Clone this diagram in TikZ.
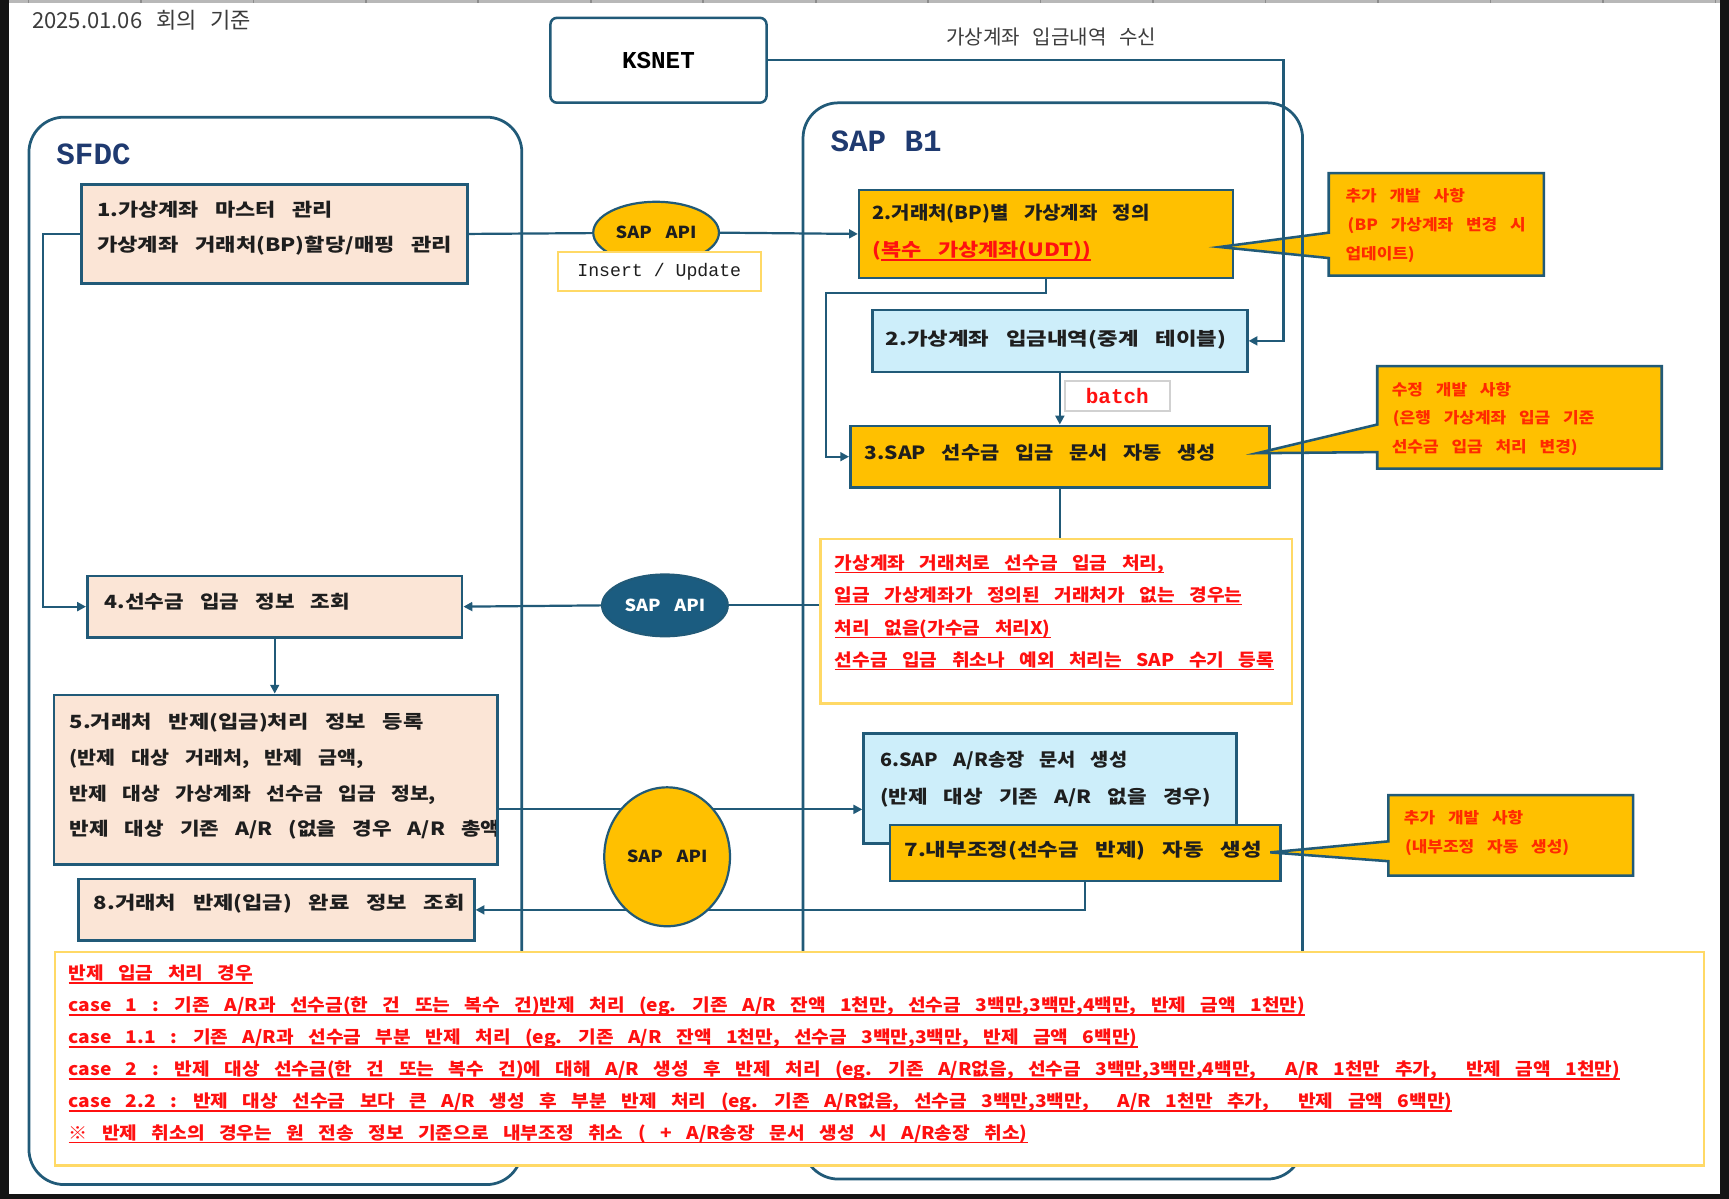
\documentclass[tikz,border=0pt]{standalone}
\usepackage{fontspec}
\usetikzlibrary{arrows.meta,shapes.geometric}
\newfontfamily\kf{Noto Sans CJK KR}[FakeStretch=1.1,WordSpace=3.3]
\newfontfamily\kfb{Noto Sans CJK KR}[FakeStretch=1.17,WordSpace=3.3]
\newfontfamily\gf{Noto Sans CJK KR}[WordSpace=2.8]
\newfontfamily\mf{Liberation Mono}
\definecolor{edge}{HTML}{215A78}
\definecolor{apidark}{HTML}{1B5C80}
\definecolor{gold}{HTML}{FFC000}
\definecolor{peach}{HTML}{FBE5D6}
\definecolor{lblue}{HTML}{CDEEFA}
\definecolor{noteline}{HTML}{FFD966}
\definecolor{navy}{HTML}{1F3A70}
\definecolor{txt}{HTML}{1E1E1E}
\definecolor{calltxt}{HTML}{FF2A00}
\definecolor{notered}{HTML}{FF1010}
\definecolor{datetxt}{HTML}{3C3C3C}
\pgfdeclarelayer{bg}
\pgfdeclarelayer{boxes}
\pgfdeclarelayer{calls}
\pgfdeclarelayer{top}
\pgfsetlayers{bg,boxes,calls,main,top}
\newcommand\ulr[1]{\setbox0\hbox{#1}\leavevmode\rlap{\rule[-3.5pt]{\wd0}{1.3pt}}\box0}
\newcommand\sx[2]{\scalebox{#1}[1]{#2}}
\tikzset{
 bx/.style={draw=edge, line width=2.3pt, anchor=north west, inner sep=0pt},
 pebox/.style={bx, fill=peach},
 gobox/.style={bx, fill=gold},
 lbbox/.style={bx, fill=lblue},
 tx/.style={anchor=base west, inner sep=0pt, text=txt, font=\kfb\bfseries\fontsize{16.5}{19}\selectfont},
 rtx/.style={tx, text=notered},
 ctx/.style={anchor=base west, inner sep=0pt, text=calltxt, font=\kf\bfseries\fontsize{14}{16}\selectfont},
 ntx/.style={anchor=base west, inner sep=0pt, text=notered, font=\kf\bfseries\fontsize{15.8}{18}\selectfont},
 conn/.style={draw=edge, line width=2pt},
 arr/.style={conn, -{Triangle[length=8pt,width=8pt]}},
 callout/.style={fill=gold, draw=edge, line width=2.3pt},
 api/.style={ellipse, draw=edge, line width=2pt, inner sep=0pt, font=\kf\bfseries\fontsize{15}{18}\selectfont},
 notebox/.style={draw=noteline, line width=2pt, fill=white, anchor=north west, inner sep=0pt},
 container/.style={draw=edge, line width=2.5pt, anchor=north west, inner sep=0pt, rounded corners=32pt},
 sysl/.style={anchor=base west, inner sep=0pt, text=navy, font=\mf\bfseries\fontsize{28}{30}\selectfont},
}
\begin{document}
\begin{tikzpicture}[x=1pt,y=-1pt]
\useasboundingbox (0,0) rectangle (1568,1087);
\begin{pgfonlayer}{bg}
\fill[white] (0,0) rectangle (1568,1087);
\fill[black!28] (8,0) rectangle (1560,3);
\foreach \k in {0,...,15} {\fill[black!45] (25+102*\k,0) rectangle (26.5+102*\k,3);}
\fill[black!92] (0,0) rectangle (8,1087);
\fill[black!92] (1560,0) rectangle (1568,1087);
\fill[black!92] (0,1083) rectangle (1568,1087);
\end{pgfonlayer}

% ---------- boxes ----------
\begin{pgfonlayer}{boxes}
\node[bx, rounded corners=6pt, fill=white, minimum width=196pt, minimum height=77pt, font=\mf\bfseries\fontsize{22}{24}\selectfont] (ksnet) at (498,15) {KSNET};
\node[pebox, minimum width=350pt, minimum height=90pt] (box1) at (73,166) {};
\node[tx] (t1a) at (88,196) {\sx{1.03}{1.가상계좌 마스터 관리}};
\node[tx] (t1b) at (88,228) {\sx{1.04}{가상계좌 거래처(BP)할당/매핑 관리}};
\node[gobox, minimum width=339pt, minimum height=80pt] (box2a) at (778,171) {};
\node[tx] (t2a) at (791,199) {\sx{0.94}{2.거래처(BP)별 가상계좌 정의}};
\node[rtx] (t2b) at (791,233) {\sx{1.03}{(\ulr{복수 가상계좌(UDT))}}};
\node[lbbox, minimum width=340pt, minimum height=56pt] (box2b) at (790,280) {};
\node[tx] (t2c) at (803,313) {\sx{1.05}{2.가상계좌 입금내역(중계 테이블)}};
\node[gobox, minimum width=380pt, minimum height=56pt] (box3) at (770,385) {};
\node[tx] (t3) at (784,417) {\sx{0.98}{3.SAP 선수금 입금 문서 자동 생성}};
\node[pebox, minimum width=340pt, minimum height=56pt] (box4) at (78,521) {};
\node[tx] (t4) at (95,552) {4.선수금 입금 정보 조회};
\node[pebox, minimum width=402pt, minimum height=154pt] (box5) at (48,629) {};
\begin{scope}
\clip (48,629) rectangle (449,783);
\node[tx] (t5a) at (63,661) {\sx{1.04}{5.거래처 반제(입금)처리 정보 등록}};
\node[tx] (t5b) at (63,693) {\sx{0.97}{(반제 대상 거래처, 반제 금액,}};
\node[tx] (t5c) at (63,726) {\sx{0.96}{반제 대상 가상계좌 선수금 입금 정보,}};
\node[tx] (t5d) at (63,758) {반제 대상 기존 A/R (없을 경우 A/R 총액};
\end{scope}
\node[lbbox, minimum width=338pt, minimum height=100pt] (box6) at (782,664) {};
\node[tx] (t6a) at (798,695) {\sx{0.93}{6.SAP A/R송장 문서 생성}};
\node[tx] (t6b) at (798,729) {(반제 대상 기존 A/R 없을 경우)};
\node[gobox, minimum width=354pt, minimum height=51pt] (box7) at (806,747) {};
\node[tx] (t7) at (820,777) {\sx{1.05}{7.내부조정(선수금 반제) 자동 생성}};
\node[pebox, minimum width=359pt, minimum height=56pt] (box8) at (70,796) {};
\node[tx] (t8) at (85,825) {\sx{1.04}{8.거래처 반제(입금) 완료 정보 조회}};
\end{pgfonlayer}

% ---------- callouts ----------
\begin{pgfonlayer}{calls}
\filldraw[callout] (1205,157) -- (1400,157) -- (1400,250) -- (1205,250) -- (1205,234) -- (1106,224) -- (1205,211) -- cycle;
\node[ctx] (c1a) at (1220,183) {추가 개발 사항};
\node[ctx] (c1b) at (1222,209) {(BP 가상계좌 변경 시};
\node[ctx] (c1c) at (1220,235) {업데이트)};
\filldraw[callout] (1249,332) -- (1507,332) -- (1507,425) -- (1249,425) -- (1249,410) -- (1140,411) -- (1249,385) -- cycle;
\node[ctx] (c2a) at (1262,359) {수정 개발 사항};
\node[ctx] (c2b) at (1263,384) {(은행 가상계좌 입금 기준};
\node[ctx] (c2c) at (1262,410) {선수금 입금 처리 변경)};
\filldraw[callout] (1259,721) -- (1481,721) -- (1481,794) -- (1259,794) -- (1259,781) -- (1152,773) -- (1259,763) -- cycle;
\node[ctx] (c3a) at (1273,747) {추가 개발 사항};
\node[ctx] (c3b) at (1274,773) {(내부조정 자동 생성)};
\end{pgfonlayer}

% ---------- top elements ----------
\begin{pgfonlayer}{top}
\node[api, fill=gold, text=txt, minimum width=114pt, minimum height=56pt] (api1) at (595,211) {SAP API};
\node[draw=noteline, line width=1.8pt, fill=white, anchor=north west, inner sep=0pt, minimum width=184pt, minimum height=35pt, text=txt, font=\mf\fontsize{16.5}{18}\selectfont] (ins) at (505,228) {Insert / Update};
\node[api, fill=apidark, text=white, minimum width=114pt, minimum height=56pt] (api2) at (603,549) {SAP API};
\node[api, fill=gold, text=txt, minimum width=114pt, minimum height=126pt] (api3) at (605,777) {SAP API};
\node[draw=black!18, line width=1.5pt, fill=white, anchor=north west, inner sep=0pt, minimum width=95pt, minimum height=27pt, text=notered, font=\mf\bfseries\fontsize{19}{20}\selectfont] (batch) at (965,345) {batch};
\node[notebox, minimum width=428pt, minimum height=149pt] (noteA) at (743,488) {};
\node[ntx] (na1) at (757,516.5) {\ulr{가상계좌 거래처로 선수금 입금 처리,}};
\node[ntx] (na2) at (757,545.5) {\ulr{입금 가상계좌가 정의된 거래처가 없는 경우는}};
\node[ntx] (na3) at (757,575.5) {\ulr{처리 없음(가수금 처리X)}};
\node[ntx] (na4) at (757,604.5) {\ulr{선수금 입금 취소나 예외 처리는 SAP 수기 등록}};
\node[notebox, minimum width=1495pt, minimum height=194pt] (noteB) at (49,862) {};
\node[ntx] (nb0) at (62,888.5) {\ulr{반제 입금 처리 경우}};
\node[ntx] (nb1) at (62,917.5) {\ulr{case 1 : 기존 A/R과 선수금(한 건 또는 복수 건)반제 처리 (eg. 기존 A/R 잔액 1천만, 선수금 3백만,3백만,4백만, 반제 금액 1천만)}};
\node[ntx] (nb2) at (62,946.5) {\ulr{case 1.1 : 기존 A/R과 선수금 부분 반제 처리 (eg. 기존 A/R 잔액 1천만, 선수금 3백만,3백만, 반제 금액 6백만)}};
\node[ntx] (nb3) at (62,975.5) {\ulr{case 2 : 반제 대상 선수금(한 건 또는 복수 건)에 대해 A/R 생성 후 반제 처리 (eg. 기존 A/R없음, 선수금 3백만,3백만,4백만,\ \ A/R 1천만 추가,\ \ 반제 금액 1천만)}};
\node[ntx] (nb4) at (62,1004.5) {\ulr{case 2.2 : 반제 대상 선수금 보다 큰 A/R 생성 후 부분 반제 처리 (eg. 기존 A/R없음, 선수금 3백만,3백만,\ \ A/R 1천만 추가,\ \ 반제 금액 6백만)}};
\node[ntx] (nb5) at (62,1033.5) {\ulr{※ 반제 취소의 경우는 원 전송 정보 기준으로 내부조정 취소 ( + A/R송장 문서 생성 시 A/R송장 취소)}};
\node[anchor=base west, inner sep=0pt, text=datetxt, font=\gf\fontsize{20}{22}\selectfont] (date) at (29,26) {2025.01.06 회의 기준};
\node[anchor=base west, inner sep=0pt, text=datetxt, font=\gf\fontsize{18.2}{20}\selectfont] (recv) at (858,40.5) {가상계좌 입금내역 수신};
\node[sysl] (lsfdc) at (51,149) {SFDC};
\node[sysl] (lsap) at (753,137) {SAP B1};
\end{pgfonlayer}

% ---------- containers and connectors ----------
\node[container, minimum width=447pt, minimum height=968pt] (sfdc) at (25,105) {};
\node[container, minimum width=453pt, minimum height=976pt] (sapb1) at (727,92) {};

\coordinate (kx) at (1164,0);
\draw[arr] (ksnet.east) -| (kx |- box2b.east) -- (box2b.east);
\draw[conn] (box1.east) -- (api1.center);
\draw[arr] (api1.east) -- (box2a.west);
\coordinate (b1) at (749,265.5);
\draw[arr] (box2a.south) |- (b1) |- (box3.west);
\draw[arr] (box2b.south) -- (box3.north);
\draw[conn] (box3.south) -- (box3.south |- noteA.north);
\draw[conn] (api2.east -| noteA.west) -- (api2.center);
\draw[arr] (api2.west) -- (box4.east);
\coordinate (b2) at (39,0);
\draw[arr] (box1.west) -| (b2 |- box4.west) -- (box4.west);
\draw[arr] (box4.south) -- (box4.south |- box5.north);
\coordinate (c9) at (0,734);
\draw[conn] (box5.east |- c9) -- (api3.center |- c9);
\draw[arr] (api3.center |- c9) -- (box6.west |- c9);
\draw[arr] (box7.south) |- (box8.east);
\end{tikzpicture}
\end{document}
